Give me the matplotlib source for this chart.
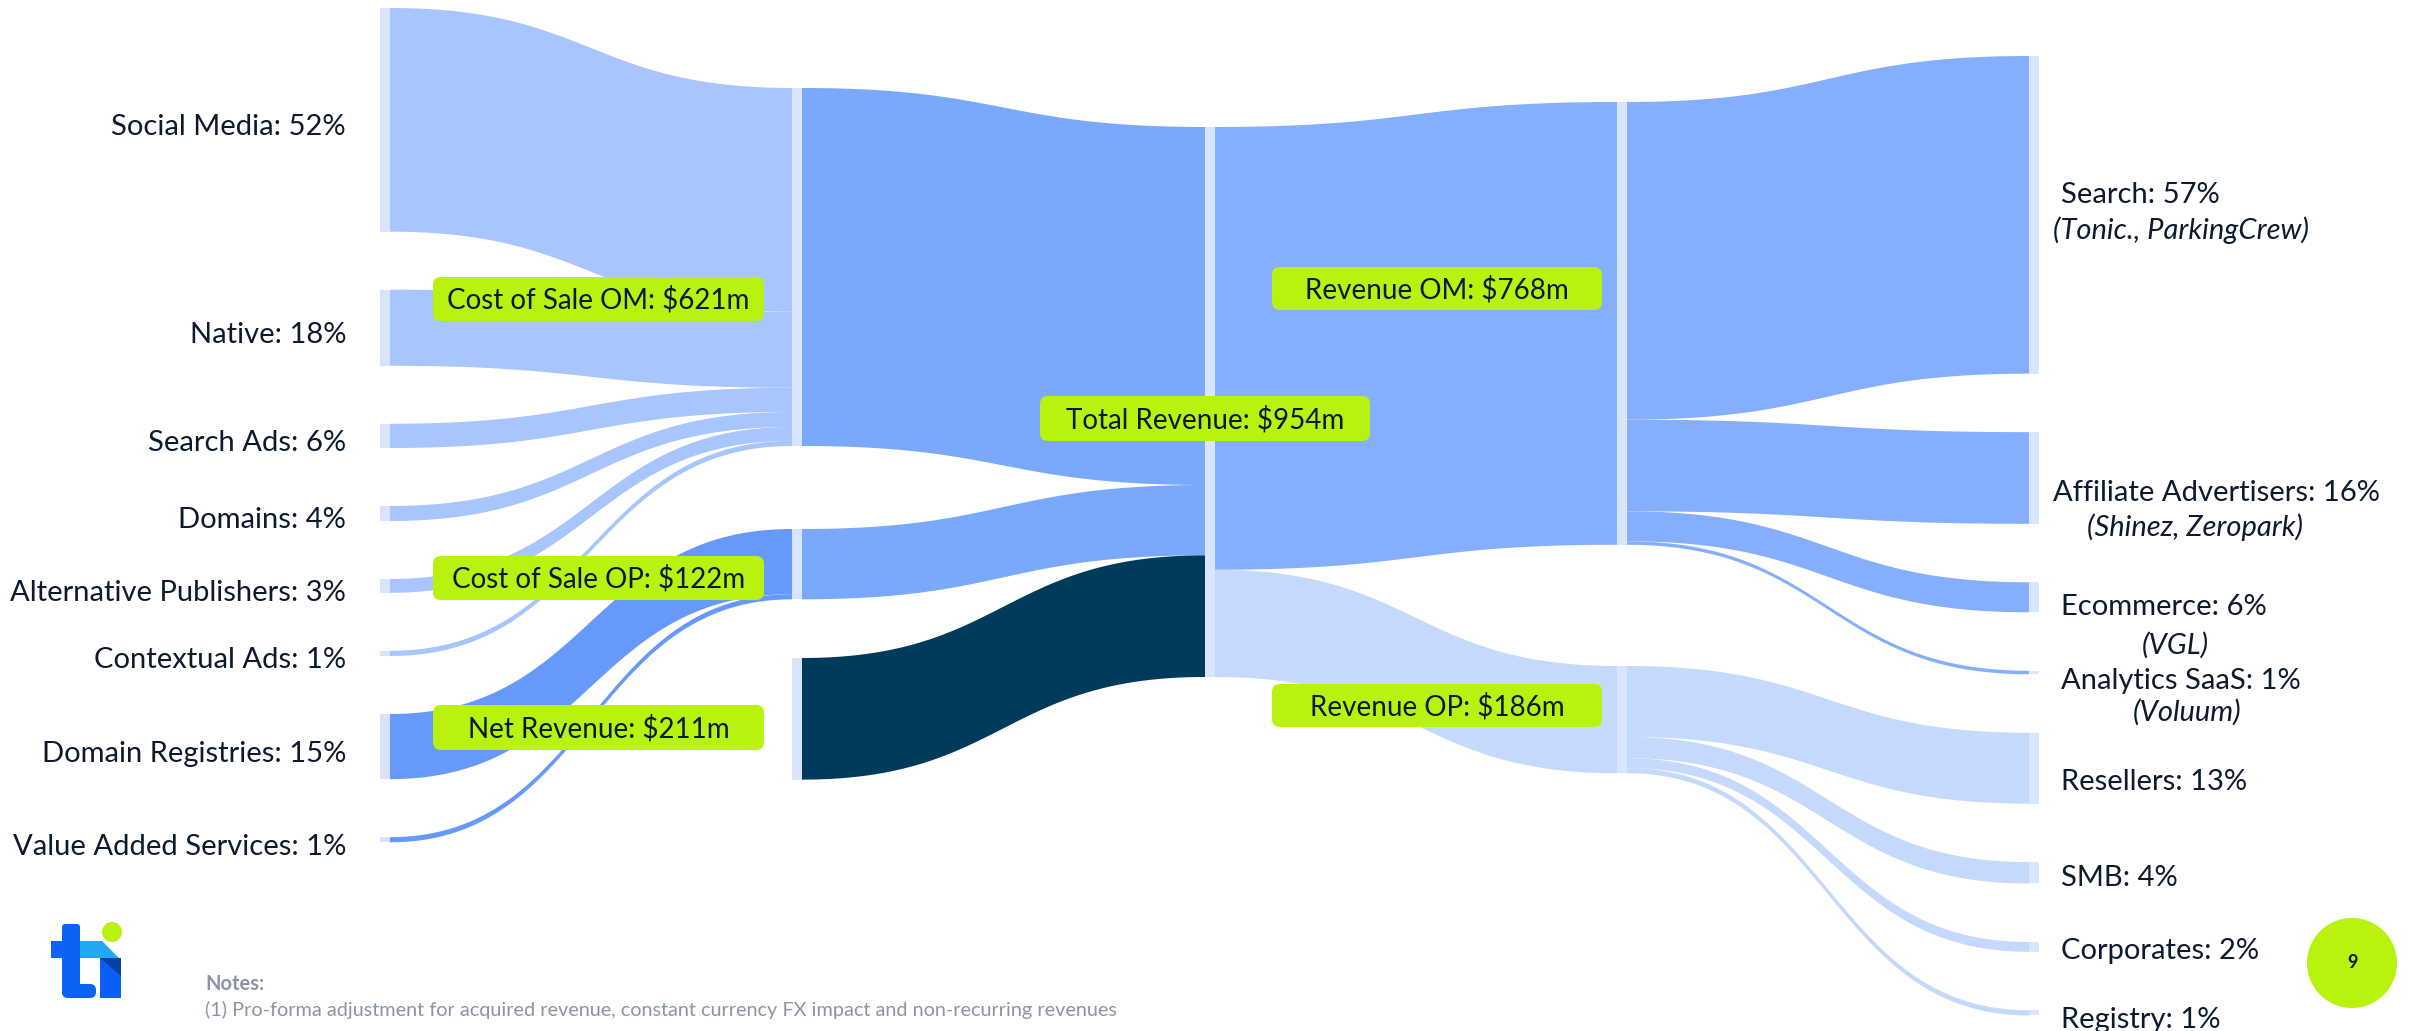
import matplotlib.pyplot as plt
import numpy as np
from matplotlib.patches import FancyBboxPatch, Polygon, Rectangle, Circle

plt.rcParams['font.family'] = ['Lato', 'DejaVu Sans']

# ---- data, $m ----
channels = ["Social Media", "Native", "Search Ads", "Domains", "Alternative Publishers",
            "Contextual Ads", "Domain Registries", "Value Added Services"]
channel_pct = ["52%", "18%", "6%", "4%", "3%", "1%", "15%", "1%"]
channel_values = [388, 132, 42, 26, 24, 9, 113, 9]
channel_target = [0, 0, 0, 0, 0, 0, 1, 1]   # index into cost_nodes

cost_nodes = ["Cost of Sale OM", "Cost of Sale OP", "Net Revenue"]
cost_values = [621, 122, 211]

total_name = "Total Revenue"
total_value = 954

segments = ["Revenue OM", "Revenue OP"]
segment_values = [768, 186]

customers = ["Search", "Affiliate Advertisers", "Ecommerce", "Analytics SaaS",
             "Resellers", "SMB", "Corporates", "Registry"]
customer_pct = ["57%", "16%", "6%", "1%", "13%", "4%", "2%", "1%"]
customer_brands = ["(Tonic., ParkingCrew)", "(Shinez, Zeropark)", "(VGL)", "(Voluum)",
                   "", "", "", ""]
customer_values = [551, 159, 52, 6, 123, 37, 17, 9]
customer_source = [0, 0, 0, 0, 1, 1, 1, 1]   # index into segments

notes_title = "Notes:"
notes_text = ("(1) Pro-forma adjustment for acquired revenue, constant currency FX impact "
              "and non-recurring revenues")
page_no = "9"

# ---- layout (pixels) ----
W, H = 2409, 1031
scale = 0.5765          # px per $m
bar_w = 10
col_x = [380, 792, 1205, 1617, 2029]

c_node = "#d9e5fc"
c_in = ["#a8c5fd", "#6699fb"]
c_cost = ["#7aa9fc", "#7aa9fc", "#003b5c"]
c_seg = ["#85aefc", "#c5d9fd"]
c_lime = "#b9f20f"
c_text = "#0b1a2e"
fs = 21
fs_box = 20


def stack(values, top, gap):
    tops = []
    y = top
    for v in values:
        tops.append(y)
        y += v * scale + gap
    return tops


def ribbon(ax, x0, y0a, y0b, x1, y1a, y1b, color):
    t = np.linspace(0, 1, 80)
    xm = (x0 + x1) / 2
    x = (1 - t)**3 * x0 + 3 * (1 - t)**2 * t * xm + 3 * (1 - t) * t**2 * xm + t**3 * x1
    h = 3 * t**2 - 2 * t**3
    top = y0a + (y1a - y0a) * h
    bot = y0b + (y1b - y0b) * h
    pts = np.vstack([np.column_stack([x, top]), np.column_stack([x[::-1], bot[::-1]])])
    ax.add_patch(Polygon(pts, closed=True, facecolor=color, edgecolor='none', zorder=1))


ch_top = stack(channel_values, 8, 58)
cost_top = [88, 529, 658]
total_top = 127
seg_top = [102, 666]
cu_top = stack(customer_values, 56, 58.5)

fig = plt.figure(figsize=(W / 100, H / 100), dpi=100)
ax = fig.add_axes([0, 0, 1, 1])
ax.set_xlim(0, W)
ax.set_ylim(H, 0)
ax.axis('off')

# channels -> cost of sale (draw OP links last so they sit on top)
offs = list(cost_top)
links = []
for i, v in enumerate(channel_values):
    k = channel_target[i]
    links.append((k, ch_top[i], offs[k], v * scale))
    offs[k] += v * scale
for k_draw in [0, 1]:
    for k, ys, yt, hgt in links:
        if k == k_draw:
            ribbon(ax, col_x[0] + bar_w, ys, ys + hgt, col_x[1], yt, yt + hgt, c_in[k])

# cost nodes -> total revenue
y = total_top
for k, v in enumerate(cost_values):
    hgt = v * scale
    ribbon(ax, col_x[1] + bar_w, cost_top[k], cost_top[k] + hgt, col_x[2], y, y + hgt, c_cost[k])
    y += hgt

# total -> segments
y = total_top
for k, v in enumerate(segment_values):
    hgt = v * scale
    ribbon(ax, col_x[2] + bar_w, y, y + hgt, col_x[3], seg_top[k], seg_top[k] + hgt, c_seg[k])
    y += hgt

# segments -> customers
offs = list(seg_top)
for i, v in enumerate(customer_values):
    k = customer_source[i]
    hgt = v * scale
    ribbon(ax, col_x[3] + bar_w, offs[k], offs[k] + hgt, col_x[4], cu_top[i], cu_top[i] + hgt, c_seg[k])
    offs[k] += hgt

# node bars
def node(x, top, v):
    ax.add_patch(Rectangle((x, top), bar_w, v * scale, facecolor=c_node, edgecolor='none', zorder=2))

for i, v in enumerate(channel_values):
    node(col_x[0], ch_top[i], v)
for k, v in enumerate(cost_values):
    node(col_x[1], cost_top[k], v)
node(col_x[2], total_top, total_value)
for k, v in enumerate(segment_values):
    node(col_x[3], seg_top[k], v)
for i, v in enumerate(customer_values):
    node(col_x[4], cu_top[i], v)

# left labels
for i, name in enumerate(channels):
    yc = ch_top[i] + channel_values[i] * scale / 2 + 7
    ax.text(col_x[0] - 34, yc, f"{name}: {channel_pct[i]}", ha='right', va='center',
            fontsize=fs, color=c_text)

# right labels (main line offset, brand line offset, brand alignment)
main_dy = [-20, 15, 10, 8, 14, 5, 4, 7]
brand_dy = [15, 49, 48, 40, 0, 0, 0, 0]
brand_x = [2053, 2195, 2175, 2187, 0, 0, 0, 0]
brand_ha = ['left', 'center', 'center', 'center', 'left', 'left', 'left', 'left']
for i, name in enumerate(customers):
    yc = cu_top[i] + customer_values[i] * scale / 2
    x0 = 2053 if i == 1 else 2061
    ax.text(x0, yc + main_dy[i], f"{name}: {customer_pct[i]}", ha='left', va='center',
            fontsize=fs, color=c_text)
    if customer_brands[i]:
        ax.text(brand_x[i], yc + brand_dy[i], customer_brands[i], ha=brand_ha[i], va='center',
                fontsize=fs, color=c_text, style='italic')

# lime value boxes: (left, top, width, height)
boxes = [(433, 277, 331, 44), (433, 556, 331, 44), (433, 705, 331, 45),
         (1040, 396, 330, 45), (1272, 267, 330, 43), (1272, 684, 330, 43)]
box_text = [f"{n}: ${v}m" for n, v in zip(cost_nodes, cost_values)]
box_text.append(f"{total_name}: ${total_value}m")
box_text += [f"{n}: ${v}m" for n, v in zip(segments, segment_values)]
for (bx, by, bw, bh), txt in zip(boxes, box_text):
    ax.add_patch(FancyBboxPatch((bx, by), bw, bh, boxstyle="round,pad=0,rounding_size=8",
                                facecolor=c_lime, edgecolor='none', zorder=5))
    ax.text(bx + bw / 2, by + bh / 2 + 1, txt, ha='center', va='center', fontsize=fs_box,
            color=c_text, zorder=6)

# logo
ax.add_patch(Polygon([(51, 941), (102, 941), (119, 958), (51, 958)], closed=True,
                     facecolor="#22a8f2", edgecolor='none', zorder=3))
ax.add_patch(Polygon([(51, 941), (80, 941), (80, 958), (51, 958)], closed=True,
                     facecolor="#0d64f6", edgecolor='none', zorder=3))
ax.add_patch(FancyBboxPatch((62, 924), 18, 72, boxstyle="round,pad=0,rounding_size=3",
                            facecolor="#0d62f6", edgecolor='none', zorder=3))
ax.add_patch(FancyBboxPatch((62, 984), 34, 14, boxstyle="round,pad=0,rounding_size=6",
                            facecolor="#0d62f6", edgecolor='none', zorder=3))
ax.add_patch(Rectangle((100, 958), 21, 40, facecolor="#0a5ff8", edgecolor='none', zorder=3))
ax.add_patch(Polygon([(100, 958), (121, 958), (121, 976)], closed=True,
                     facecolor="#0a3fa8", edgecolor='none', zorder=4))
ax.add_patch(Circle((112, 932), 10, facecolor=c_lime, edgecolor='none', zorder=3))

# notes
ax.text(205, 984, notes_title, ha='left', va='center', fontsize=14.5, color="#8a94a6",
        fontweight='bold')
ax.text(205, 1010, notes_text, ha='left', va='center', fontsize=14.3, color="#8a94a6")

# page number
ax.add_patch(Circle((2352, 963), 45, facecolor=c_lime, edgecolor='none', zorder=3))
ax.text(2352, 963, page_no, ha='center', va='center', fontsize=13, fontweight='bold',
        color=c_text, zorder=4)

fig.savefig("out.png", dpi=100, facecolor='white')
